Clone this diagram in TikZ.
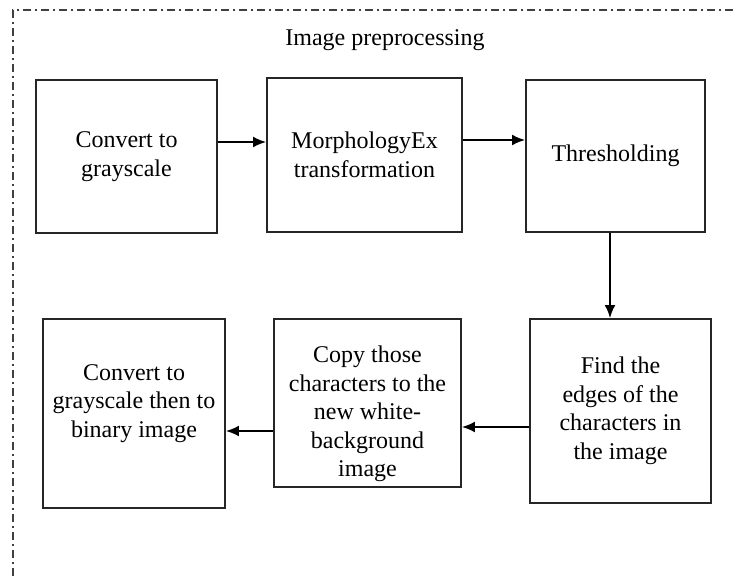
\documentclass[tikz,border=0pt]{standalone}
\usepackage{fontspec}
\setmainfont{Liberation Serif}
\usepackage{tikz}
\usetikzlibrary{arrows,arrows.meta,shapes,positioning,calc}

\begin{document}
\begin{tikzpicture}[x=1pt, y=-1pt,
		stepbox/.style={rectangle, draw=black!85, line width=1.9pt, align=center, inner sep=0pt, font=\fontsize{24}{28.5}\selectfont},
		flow/.style={-{Latex[length=13pt,width=11pt]}, line width=2pt}]
		\useasboundingbox (0,0) rectangle (733,580);
		% dash-dot frame around the preprocessing stage
		\draw[line width=2.2pt, black!75, dash pattern=on 8pt off 4pt on 2pt off 4pt] (733,10) -- (13,10) -- (13,580);
		\node[font=\fontsize{24}{28}\selectfont] (title) at (385,40) {Image preprocessing};

		\node[stepbox, minimum width=181, minimum height=153] (gray) at (126.5,156.5) {Convert to\\grayscale};
		\node[stepbox, minimum width=195, minimum height=154] (morph) at (364.5,155) {MorphologyEx\\transformation};
		\node[stepbox, minimum width=179, minimum height=152] (thresh) at (615.5,156) {Thresholding};
		\node[stepbox, minimum width=181, minimum height=184] (edges) at (620.5,411) {Find the\\edges of the\\characters in\\the image};
		\node[stepbox, minimum width=187, minimum height=168, text height=147pt, text depth=0pt] (copy) at (367.5,403) {Copy those\\characters to the\\new white-\\background\\image};
		\node[stepbox, minimum width=182, minimum height=189, text depth=25pt] (binary) at (134,413.5) {Convert to\\grayscale then to\\binary image};

		\draw[flow] ([yshift=14.5pt]gray.east) -- ([yshift=14.5pt]gray.east -| morph.west);
		\draw[flow] ([yshift=15pt]morph.east) -- ([yshift=15pt]morph.east -| thresh.west);
		\draw[flow] ([xshift=-5.5pt]thresh.south) -- ([xshift=-5.5pt]thresh.south |- edges.north);
		\draw[flow] ([yshift=-16pt]edges.west) -- ([yshift=-16pt]edges.west -| copy.east);
		\draw[flow] ([yshift=-28pt]copy.west) -- ([yshift=-28pt]copy.west -| binary.east);
\end{tikzpicture}
\end{document}
